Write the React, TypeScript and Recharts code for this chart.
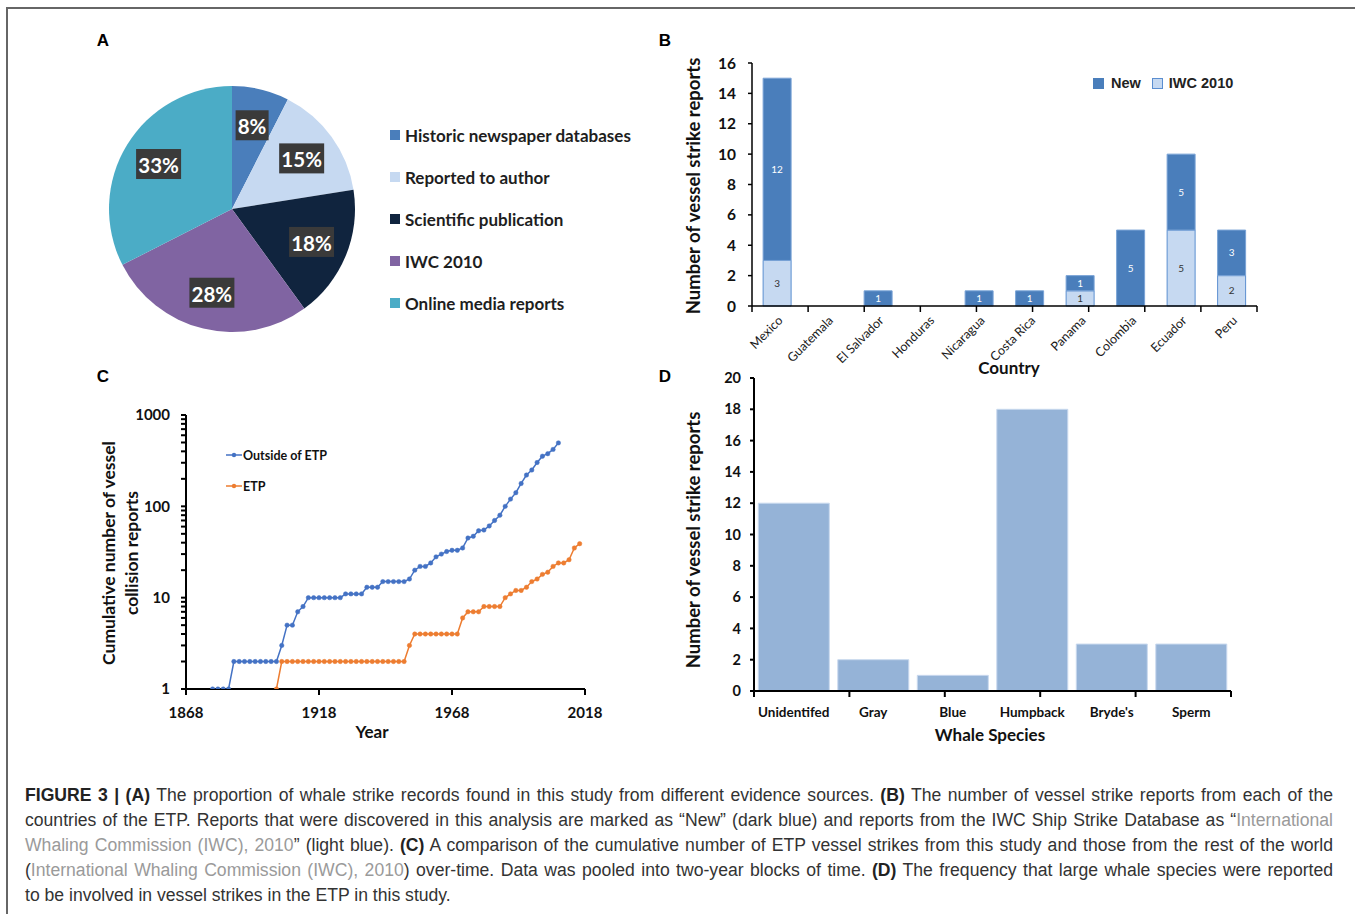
import React from 'react';
import {
  PieChart,
  Pie,
  Cell,
  BarChart,
  Bar,
  LineChart,
  Line,
  XAxis,
  YAxis,
  LabelList,
} from 'recharts';

// Panel A - evidence sources (record counts, n = 40)
const SOURCE_NAMES = [
  'Historic newspaper databases',
  'Reported to author',
  'Scientific publication',
  'IWC 2010',
  'Online media reports',
];
const SOURCE_COUNTS = [3, 6, 7, 11, 13];
const SOURCE_COLORS = ['#4a7ebb', '#c6d9f1', '#10243e', '#8064a2', '#4bacc6'];

// Panel B - reports per country
const COUNTRIES = [
  'Mexico',
  'Guatemala',
  'El Salvador',
  'Honduras',
  'Nicaragua',
  'Costa Rica',
  'Panama',
  'Colombia',
  'Ecuador',
  'Peru',
];
const IWC_2010 = [3, 0, 0, 0, 0, 0, 1, 0, 5, 2];
const NEW_REPORTS = [12, 0, 1, 0, 1, 1, 1, 5, 5, 3];
const B_TICKS = [0, 2, 4, 6, 8, 10, 12, 14, 16];

// Panel C - cumulative reports, two-year blocks
const YEARS = [
  1878, 1880, 1882, 1884, 1886, 1888, 1890, 1892, 1894, 1896,
  1898, 1900, 1902, 1904, 1906, 1908, 1910, 1912, 1914, 1916,
  1918, 1920, 1922, 1924, 1926, 1928, 1930, 1932, 1934, 1936,
  1938, 1940, 1942, 1944, 1946, 1948, 1950, 1952, 1954, 1956,
  1958, 1960, 1962, 1964, 1966, 1968, 1970, 1972, 1974, 1976,
  1978, 1980, 1982, 1984, 1986, 1988, 1990, 1992, 1994, 1996,
  1998, 2000, 2002, 2004, 2006, 2008, 2010, 2012, 2014, 2016,
];
const OUTSIDE_ETP = [
  1, 1, 1, 1, 2, 2, 2, 2, 2, 2,
  2, 2, 2, 3, 5, 5, 7, 8, 10, 10,
  10, 10, 10, 10, 10, 11, 11, 11, 11, 13,
  13, 13, 15, 15, 15, 15, 15, 16, 20, 22,
  22, 24, 28, 30, 32, 33, 33, 35, 45, 47,
  54, 55, 61, 70, 80, 100, 120, 141, 178, 220,
  250, 302, 354, 377, 420, 495, null, null, null, null,
];
const ETP = [
  null, null, null, null, null, null, null, null, null, null,
  null, null, 1, 2, 2, 2, 2, 2, 2, 2,
  2, 2, 2, 2, 2, 2, 2, 2, 2, 2,
  2, 2, 2, 2, 2, 2, 2, 3, 4, 4,
  4, 4, 4, 4, 4, 4, 4, 6, 7, 7,
  7, 8, 8, 8, 8, 10, 11, 12, 12, 13,
  15, 16, 18, 19, 22, 24, 24, 26, 35, 39,
];
const C_YEAR_TICKS = [1868, 1918, 1968, 2018];
const C_MAJOR_TICKS = [1, 10, 100, 1000];
const C_ALL_TICKS = [
  1, 2, 3, 4, 5, 6, 7, 8, 9,
  10, 20, 30, 40, 50, 60, 70, 80, 90,
  100, 200, 300, 400, 500, 600, 700, 800, 900, 1000,
];

// Panel D - species
const SPECIES = ['Unidentifed', 'Gray', 'Blue', 'Humpback', "Bryde's", 'Sperm'];
const SPECIES_REPORTS = [12, 2, 1, 18, 3, 3];
const D_TICKS = [0, 2, 4, 6, 8, 10, 12, 14, 16, 18, 20];

const TOTAL = SOURCE_COUNTS.reduce((a, b) => a + b, 0);
const pieData = SOURCE_NAMES.map((name, i) => ({ name, count: SOURCE_COUNTS[i] }));
const countryData = COUNTRIES.map((country, i) => ({
  country,
  iwc: IWC_2010[i],
  fresh: NEW_REPORTS[i],
}));
const yearData = YEARS.map((year, i) => ({ year, outside: OUTSIDE_ETP[i], etp: ETP[i] }));
const speciesData = SPECIES.map((species, i) => ({ species, reports: SPECIES_REPORTS[i] }));

const FONT = 'Lato, "Open Sans", sans-serif';
const INK = '#111';

const renderPieLabel = (props: any) => {
  const { cx, cy, midAngle, outerRadius, value } = props;
  const rad = Math.PI / 180;
  const r = outerRadius * 0.7;
  const x = cx + r * Math.cos(-midAngle * rad);
  const y = cy + r * Math.sin(-midAngle * rad);
  const text = `${Math.round((value * 100) / TOTAL)}%`;
  const w = text.length * 12 + 9;
  return (
    <g>
      <rect x={x - w / 2} y={y - 15} width={w} height={30} fill="#3a3a3a" />
      <text
        x={x}
        y={y + 1}
        textAnchor="middle"
        dominantBaseline="central"
        fill="#fff"
        fontSize={20.5}
        fontWeight={700}
      >
        {text}
      </text>
    </g>
  );
};

const hideZero = (v: any) => (v ? v : '');

const Abs = ({ x, y, children, style }: any) => (
  <div
    style={{
      position: 'absolute',
      left: x,
      top: y,
      transform: 'translate(-50%, -50%)',
      whiteSpace: 'nowrap',
      ...style,
    }}
  >
    {children}
  </div>
);

const VTitle = ({ x, y, children, size = 18.5 }: any) => (
  <Abs
    x={x}
    y={y}
    style={{
      transform: 'translate(-50%, -50%) rotate(-90deg)',
      fontFamily: FONT,
      fontWeight: 700,
      fontSize: size,
      color: INK,
    }}
  >
    {children}
  </Abs>
);

const PanelLetter = ({ x, y, children }: any) => (
  <Abs x={x} y={y} style={{ fontFamily: '"Liberation Sans", Arial, sans-serif', fontWeight: 700, fontSize: 17, color: '#000' }}>
    {children}
  </Abs>
);

const Gray = ({ children }: any) => <span style={{ color: '#9a9a9a' }}>{children}</span>;
const B = ({ children }: any) => <b style={{ color: '#222' }}>{children}</b>;

const CaptionLine = ({ top, last, children }: any) => (
  <div
    style={{
      position: 'absolute',
      left: 25,
      top,
      width: 1308,
      height: 25,
      lineHeight: '25px',
      textAlign: 'justify',
      textAlignLast: last ? 'left' : 'justify',
      whiteSpace: 'nowrap',
    }}
  >
    {children}
  </div>
);

export default function App() {
  return (
    <div
      style={{
        position: 'absolute',
        left: 0,
        top: 0,
        width: 1355,
        height: 914,
        background: '#fff',
        overflow: 'hidden',
        fontFamily: FONT,
      }}
    >
      {/* figure frame */}
      <div
        style={{
          position: 'absolute',
          left: 6,
          top: 7,
          width: 1349,
          height: 907,
          borderTop: '2px solid #666',
          borderLeft: '2px solid #666',
        }}
      />

      <PanelLetter x={103} y={41}>A</PanelLetter>
      <PanelLetter x={665} y={41}>B</PanelLetter>
      <PanelLetter x={103} y={377}>C</PanelLetter>
      <PanelLetter x={665} y={377}>D</PanelLetter>

      {/* Panel A */}
      <div style={{ position: 'absolute', left: 97, top: 76 }}>
        <PieChart width={260} height={256}>
          <Pie
            data={pieData}
            dataKey="count"
            nameKey="name"
            cx={130}
            cy={128}
            outerRadius={123}
            startAngle={90}
            endAngle={-270}
            stroke="none"
            label={renderPieLabel}
            labelLine={false}
            isAnimationActive={false}
          >
            {pieData.map((entry, i) => (
              <Cell key={entry.name} fill={SOURCE_COLORS[i]} />
            ))}
          </Pie>
        </PieChart>
      </div>
      {SOURCE_NAMES.map((name, i) => (
        <div
          key={name}
          style={{
            position: 'absolute',
            left: 390,
            top: 124 + i * 42,
            height: 22,
            display: 'flex',
            alignItems: 'center',
            whiteSpace: 'nowrap',
          }}
        >
          <span style={{ width: 10, height: 10, background: SOURCE_COLORS[i], marginRight: 5 }} />
          <span style={{ fontWeight: 700, fontSize: 17, color: '#1e1e1e' }}>{name}</span>
        </div>
      ))}

      {/* Panel B */}
      <div style={{ position: 'absolute', left: 680, top: 50 }}>
        <BarChart
          width={600}
          height={330}
          data={countryData}
          margin={{ top: 13, right: 23, left: 0, bottom: 8 }}
          barCategoryGap="22%"
        >
          <XAxis
            xAxisId={0}
            type="number"
            domain={[0, COUNTRIES.length]}
            allowDataOverflow
            ticks={COUNTRIES.map((_, i) => i).concat(COUNTRIES.length)}
            interval={0}
            tickFormatter={() => ''}
            height={1}
            tickSize={6}
            stroke="#000"
            strokeWidth={1.5}
          />
          <XAxis
            xAxisId={1}
            dataKey="country"
            height={65}
            axisLine={false}
            tickLine={false}
            interval={0}
            angle={-45}
            textAnchor="end"
            tickMargin={2}
            dx={0}
            tick={{ fontSize: 12.5, fill: '#1a1a1a' }}
          />
          <YAxis
            width={72}
            domain={[0, 16]}
            ticks={B_TICKS}
            interval={0}
            tickSize={4}
            tickMargin={12}
            stroke="#000"
            strokeWidth={1.5}
            tick={{ fontSize: 15.5, fontWeight: 700, fill: INK }}
          />
          <Bar
            xAxisId={1}
            dataKey="iwc"
            stackId="s"
            fill="#c6d9f1"
            stroke="#5b8ed0"
            strokeWidth={1}
            isAnimationActive={false}
          >
            <LabelList dataKey="iwc" position="center" formatter={hideZero} fill="#333" fontSize={10} />
          </Bar>
          <Bar
            xAxisId={1}
            dataKey="fresh"
            stackId="s"
            fill="#4a7ebb"
            stroke="#7aa3d6"
            strokeWidth={1}
            isAnimationActive={false}
          >
            <LabelList dataKey="fresh" position="center" formatter={hideZero} fill="#fff" fontSize={10} />
          </Bar>
        </BarChart>
      </div>
      <VTitle x={693} y={186}>Number of vessel strike reports</VTitle>
      <Abs x={1009} y={367} style={{ fontWeight: 700, fontSize: 17, color: INK }}>Country</Abs>
      <div
        style={{
          position: 'absolute',
          left: 1093,
          top: 75,
          display: 'flex',
          alignItems: 'center',
          fontFamily: '"Liberation Sans", Arial, sans-serif',
          fontWeight: 700,
          fontSize: 14.5,
          color: '#222',
          whiteSpace: 'nowrap',
        }}
      >
        <span style={{ width: 11, height: 11, background: '#4a7ebb', marginRight: 7 }} />
        <span style={{ marginRight: 11 }}>New</span>
        <span
          style={{
            width: 9,
            height: 9,
            background: '#c6d9f1',
            border: '1px solid #5b8ed0',
            marginRight: 6,
          }}
        />
        <span>IWC 2010</span>
      </div>

      {/* Panel C */}
      <div style={{ position: 'absolute', left: 90, top: 400 }}>
        <LineChart
          width={520}
          height={345}
          data={yearData}
          margin={{ top: 15, right: 25, left: 0, bottom: 26 }}
        >
          <XAxis
            dataKey="year"
            type="number"
            domain={[1868, 2018]}
            allowDataOverflow
            ticks={C_YEAR_TICKS}
            interval={0}
            height={30}
            tickSize={6}
            tickMargin={12}
            stroke="#000"
            strokeWidth={2}
            tick={{ fontSize: 15, fontWeight: 700, fill: INK }}
          />
          <YAxis
            type="number"
            scale="log"
            domain={[1, 1000]}
            allowDataOverflow
            ticks={C_ALL_TICKS}
            interval={0}
            width={96}
            tickSize={5}
            tickMargin={11}
            stroke="#000"
            strokeWidth={2}
            tickFormatter={(v: number) => (C_MAJOR_TICKS.includes(v) ? String(v) : '')}
            tick={{ fontSize: 15, fontWeight: 700, fill: INK }}
          />
          <Line
            dataKey="outside"
            stroke="#4472c4"
            strokeWidth={1.5}
            dot={{ r: 2.2, fill: '#4472c4', stroke: '#4472c4', strokeWidth: 0.5 }}
            isAnimationActive={false}
          />
          <Line
            dataKey="etp"
            stroke="#ed7d31"
            strokeWidth={1.5}
            dot={{ r: 2.2, fill: '#ed7d31', stroke: '#ed7d31', strokeWidth: 0.5 }}
            isAnimationActive={false}
          />
        </LineChart>
      </div>
      {[
        { label: 'Outside of ETP', color: '#4472c4', y: 455 },
        { label: 'ETP', color: '#ed7d31', y: 486 },
      ].map((item) => (
        <div
          key={item.label}
          style={{
            position: 'absolute',
            left: 226,
            top: item.y - 9,
            height: 18,
            display: 'flex',
            alignItems: 'center',
            whiteSpace: 'nowrap',
          }}
        >
          <svg width={17} height={18}>
            <line x1={0} y1={9} x2={16} y2={9} stroke={item.color} strokeWidth={1.5} />
            <circle cx={8} cy={9} r={2.2} fill={item.color} />
          </svg>
          <span style={{ fontWeight: 700, fontSize: 12.5, color: INK }}>{item.label}</span>
        </div>
      ))}
      <VTitle x={108} y={553} size={17.5}>Cumulative number of vessel</VTitle>
      <VTitle x={131} y={553} size={17.5}>collision reports</VTitle>
      <Abs x={372} y={731} style={{ fontWeight: 700, fontSize: 17, color: INK }}>Year</Abs>

      {/* Panel D */}
      <div style={{ position: 'absolute', left: 680, top: 365 }}>
        <BarChart
          width={600}
          height={390}
          data={speciesData}
          margin={{ top: 13, right: 49, left: 0, bottom: 33 }}
          barCategoryGap="5.4%"
        >
          <XAxis
            xAxisId={0}
            type="number"
            domain={[0, SPECIES.length]}
            allowDataOverflow
            ticks={SPECIES.map((_, i) => i).concat(SPECIES.length)}
            interval={0}
            tickFormatter={() => ''}
            height={1}
            tickSize={6}
            stroke="#000"
            strokeWidth={2}
          />
          <XAxis
            xAxisId={1}
            dataKey="species"
            height={30}
            axisLine={false}
            tickLine={false}
            interval={0}
            tickMargin={9}
            tick={{ fontSize: 13.5, fontWeight: 700, fill: INK }}
          />
          <YAxis
            width={74}
            domain={[0, 20]}
            ticks={D_TICKS}
            interval={0}
            tickSize={4}
            tickMargin={9}
            stroke="#000"
            strokeWidth={2}
            tick={{ fontSize: 14.5, fontWeight: 700, fill: INK }}
          />
          <Bar
            xAxisId={1}
            dataKey="reports"
            fill="#95b3d7"
            stroke="#c9d9ee"
            strokeWidth={1}
            isAnimationActive={false}
          />
        </BarChart>
      </div>
      <VTitle x={693} y={540}>Number of vessel strike reports</VTitle>
      <Abs x={990} y={734} style={{ fontWeight: 700, fontSize: 17, color: INK }}>Whale Species</Abs>

      {/* Caption */}
      <div
        style={{
          fontFamily: '"Liberation Sans", Arial, sans-serif',
          fontSize: 17.6,
          color: '#333',
        }}
      >
        <CaptionLine top={783}>
          <B>FIGURE 3 | (A)</B> The proportion of whale strike records found in this study from different evidence
          sources. <B>(B)</B> The number of vessel strike reports from each of the
        </CaptionLine>
        <CaptionLine top={808}>
          countries of the ETP. Reports that were discovered in this analysis are marked as “New” (dark blue) and
          reports from the IWC Ship Strike Database as “<Gray>International</Gray>
        </CaptionLine>
        <CaptionLine top={833}>
          <Gray>Whaling Commission (IWC), 2010</Gray>” (light blue). <B>(C)</B> A comparison of the cumulative number
          of ETP vessel strikes from this study and those from the rest of the world
        </CaptionLine>
        <CaptionLine top={858}>
          (<Gray>International Whaling Commission (IWC), 2010</Gray>) over-time. Data was pooled into two-year blocks
          of time. <B>(D)</B> The frequency that large whale species were reported
        </CaptionLine>
        <CaptionLine top={883} last>
          to be involved in vessel strikes in the ETP in this study.
        </CaptionLine>
      </div>
    </div>
  );
}
